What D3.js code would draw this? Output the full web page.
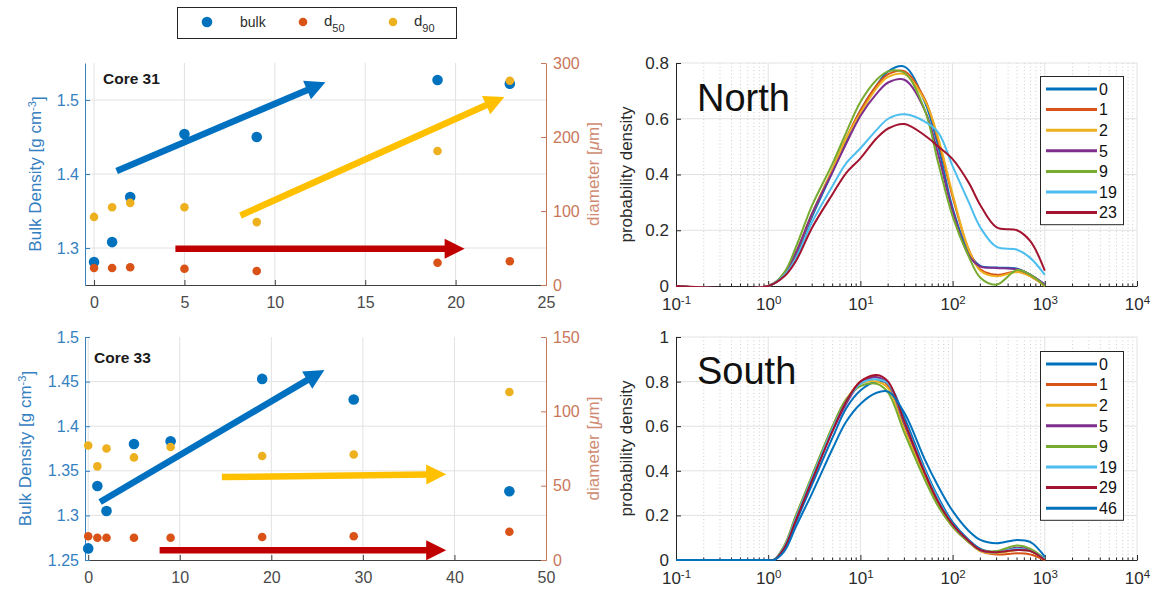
<!DOCTYPE html>
<html><head><meta charset="utf-8">
<script src="https://cdn.jsdelivr.net/npm/d3@7"></script>
<style>body{margin:0;background:#fff} svg{display:block} text{font-family:"Liberation Sans",Arial,Helvetica,sans-serif}</style>
</head><body><svg id="c" width="1161" height="592"></svg>
<script>
// ---------- data ----------
const core31Depth = [0, 1, 2, 5, 9, 19, 23];
const core31Bulk  = [1.281, 1.308, 1.369, 1.454, 1.450, 1.527, 1.522];
const core31D50   = [23, 23, 24, 22, 19, 30, 32];
const core31D90   = [92, 105, 111, 105, 85, 181, 276];

const core33Depth = [0, 1, 2, 5, 9, 19, 29, 46];
const core33Bulk  = [1.263, 1.333, 1.305, 1.380, 1.383, 1.453, 1.430, 1.327];
const core33D50   = [16, 15, 15, 15, 15, 15.5, 16, 19];
const core33D90   = [77, 63, 75, 69, 76, 70, 71, 113];

// trend arrows (data units: depth, bulk density axis)
const arrows31Start = [[1.25, 1.404], [8.1, 1.344], [4.5, 1.299]];
const arrows31End   = [[12.8, 1.524], [22.7, 1.504], [20.5, 1.299]];
const arrows33Start = [[1.3, 1.315], [14.6, 1.343], [7.8, 1.261]];
const arrows33End   = [[25.8, 1.463], [39.1, 1.346], [39.1, 1.261]];

const x31Ticks = [0, 5, 10, 15, 20, 25];
const yL31Ticks = [1.3, 1.4, 1.5];
const yR31Ticks = [0, 100, 200, 300];
const x33Ticks = [0, 10, 20, 30, 40, 50];
const yL33Ticks = [1.25, 1.3, 1.35, 1.4, 1.45, 1.5];
const yR33Ticks = [0, 50, 100, 150];

const northX = [0.1, 1, 1.5, 2, 3, 5, 7, 10, 15, 20, 30, 50, 70, 100, 150, 200, 300, 500, 700, 1000];
const northLabels = ["0", "1", "2", "5", "9", "19", "23"];
const north0  = [0,0,0.04,0.11,0.25,0.41,0.52,0.63,0.72,0.77,0.787,0.66,0.50,0.28,0.12,0.072,0.066,0.062,0.04,0.005];
const north1  = [0,0,0.045,0.12,0.26,0.42,0.53,0.63,0.72,0.76,0.771,0.67,0.52,0.32,0.13,0.06,0.04,0.052,0.035,0];
const north2  = [0,0,0.045,0.12,0.26,0.42,0.53,0.62,0.71,0.75,0.76,0.665,0.53,0.33,0.13,0.055,0.035,0.05,0.035,0];
const north5  = [0,0,0.045,0.12,0.26,0.41,0.51,0.61,0.69,0.73,0.74,0.63,0.47,0.27,0.11,0.07,0.065,0.06,0.04,0.005];
const north9  = [0,0,0.05,0.14,0.29,0.44,0.55,0.66,0.74,0.77,0.765,0.63,0.44,0.25,0.105,0.03,0.005,0.057,0.04,0];
const north19 = [0,0,0.04,0.10,0.23,0.36,0.44,0.494,0.56,0.60,0.616,0.59,0.55,0.43,0.30,0.21,0.14,0.13,0.10,0.04];
const north23 = [0,0,0.035,0.09,0.21,0.33,0.405,0.458,0.53,0.565,0.581,0.54,0.50,0.455,0.37,0.29,0.21,0.20,0.16,0.055];

const southX = [0.1, 1, 1.15, 1.5, 2, 3, 5, 7, 10, 15, 20, 30, 50, 70, 100, 150, 200, 300, 500, 700, 1000];
const southLabels = ["0", "1", "2", "5", "9", "19", "29", "46"];
const south0  = [0,0,0,0.05,0.17,0.34,0.55,0.68,0.76,0.80,0.79,0.64,0.41,0.28,0.17,0.09,0.05,0.035,0.045,0.04,0.005];
const south1  = [0,0,0,0.06,0.19,0.37,0.59,0.71,0.80,0.82,0.78,0.60,0.38,0.25,0.15,0.08,0.04,0.025,0.03,0.025,0];
const south2  = [0,0,0,0.065,0.20,0.38,0.60,0.72,0.79,0.80,0.77,0.59,0.37,0.245,0.15,0.08,0.04,0.03,0.045,0.04,0];
const south5  = [0,0,0,0.055,0.18,0.36,0.58,0.70,0.79,0.82,0.79,0.61,0.39,0.26,0.16,0.085,0.045,0.035,0.055,0.045,0.005];
const south9  = [0,0,0,0.065,0.20,0.38,0.60,0.72,0.78,0.79,0.75,0.57,0.36,0.24,0.15,0.08,0.045,0.04,0.065,0.05,0.005];
const south19 = [0,0,0,0.06,0.19,0.37,0.59,0.71,0.79,0.81,0.79,0.62,0.40,0.27,0.16,0.085,0.045,0.035,0.05,0.04,0.005];
const south29 = [0,0,0,0.055,0.18,0.36,0.58,0.71,0.80,0.83,0.80,0.62,0.39,0.26,0.16,0.085,0.045,0.035,0.045,0.04,0];
const south46 = [0,0,0,0.04,0.15,0.30,0.50,0.62,0.70,0.75,0.755,0.66,0.45,0.33,0.22,0.13,0.09,0.075,0.09,0.08,0.015];

const pdfDecades = [0.1, 1, 10, 100, 1000, 10000];
const northYTicks = [0, 0.2, 0.4, 0.6, 0.8];
const southYTicks = [0, 0.2, 0.4, 0.6, 0.8, 1];

// ---------- styles ----------
const svg = d3.select("#c");
svg.append("rect").attr("width", 1161).attr("height", 592).attr("fill", "#fff");
const MCOL = ["#0072BD", "#D95319", "#EDB120", "#7E2F8E", "#77AC30", "#4DBEEE", "#A2142F", "#0072BD"];
const ARROWCOL = ["#0070C0", "#FFC000", "#C00000"];
const LEFTC = "#3580c0", RIGHTC = "#c8765a", AXC = "#404040", GRID = "#e2e2e2", TXT = "#2b2b2b";

function arrow(g, p1, p2, color) {
  const dx = p2[0] - p1[0], dy = p2[1] - p1[1], L = Math.hypot(dx, dy), ux = dx / L, uy = dy / L;
  const head = 20, hw = 10;
  const bx = p2[0] - ux * head, by = p2[1] - uy * head;
  g.append("line").attr("x1", p1[0]).attr("y1", p1[1]).attr("x2", bx + ux).attr("y2", by + uy)
    .attr("stroke", color).attr("stroke-width", 6.5);
  g.append("path").attr("d", `M${p2[0]},${p2[1]}L${bx - uy * hw},${by + ux * hw}L${bx + uy * hw},${by - ux * hw}Z`).attr("fill", color);
}

function styleAxis(ax, color, fs) {
  ax.select(".domain").attr("stroke", color).attr("stroke-width", 1);
  ax.selectAll(".tick line").attr("stroke", color);
  ax.selectAll(".tick text").attr("fill", color).attr("font-size", fs).attr("font-family", '"Liberation Sans",Arial,sans-serif');
}

function scatterPanel(c) {
  const xs = d3.scaleLinear().domain(c.xDom).range([85, 546]);
  const yl = d3.scaleLinear().domain(c.yLDom).range([c.y1, c.y0]);
  const yr = d3.scaleLinear().domain(c.yRDom).range([c.y1, c.y0]);
  const g = svg.append("g");
  g.selectAll(null).data(c.xTicks.filter(t => xs(t) > 87 && xs(t) < 544)).join("line")
    .attr("x1", d => xs(d)).attr("x2", d => xs(d)).attr("y1", c.y0).attr("y2", c.y1).attr("stroke", GRID);
  g.selectAll(null).data(c.yLTicks.filter(t => yl(t) > c.y0 + 1 && yl(t) < c.y1 - 1)).join("line")
    .attr("x1", 85).attr("x2", 546).attr("y1", d => yl(d)).attr("y2", d => yl(d)).attr("stroke", GRID);

  const ax = g.append("g").attr("transform", `translate(0,${c.y1})`)
    .call(d3.axisBottom(xs).tickValues(c.xTicks).tickSizeInner(-5).tickSizeOuter(0).tickPadding(12));
  styleAxis(ax, AXC, 16);
  ax.selectAll(".tick text").attr("fill", "#4a4a4a");
  const al = g.append("g").attr("transform", "translate(85,0)")
    .call(d3.axisLeft(yl).tickValues(c.yLTicks).tickSizeInner(-5).tickSizeOuter(0).tickPadding(6).tickFormat(d3.format("~g")));
  styleAxis(al, LEFTC, 16);
  const ar = g.append("g").attr("transform", "translate(546,0)")
    .call(d3.axisRight(yr).tickValues(c.yRTicks).tickSizeInner(-5).tickSizeOuter(0).tickPadding(7));
  styleAxis(ar, RIGHTC, 16);

  const my = (c.y0 + c.y1) / 2;
  const lt = g.append("text").attr("transform", `translate(${c.yLabelX},${my}) rotate(-90)`)
    .attr("text-anchor", "middle").attr("fill", LEFTC).attr("font-size", 17);
  lt.append("tspan").text("Bulk Density [g cm");
  lt.append("tspan").attr("dy", "-0.45em").attr("font-size", 11).text("-3");
  lt.append("tspan").attr("dy", "0.45em").text("]");
  const rt = g.append("text").attr("transform", `translate(599,${my}) rotate(-90)`)
    .attr("text-anchor", "middle").attr("fill", RIGHTC).attr("font-size", 17).attr("opacity", 0.85);
  rt.append("tspan").text("diameter [");
  rt.append("tspan").attr("font-style", "italic").text("μ");
  rt.append("tspan").text("m]");

  g.append("text").attr("x", c.titleX).attr("y", c.titleY).attr("font-size", 15.5).attr("font-weight", "bold")
    .attr("fill", "#1a1a1a").text(c.title);

  g.selectAll(null).data(c.depth).join("circle").attr("cx", d => xs(d)).attr("cy", (d, i) => yl(c.bulk[i]))
    .attr("r", 5.3).attr("fill", MCOL[0]);
  g.selectAll(null).data(c.depth).join("circle").attr("cx", d => xs(d)).attr("cy", (d, i) => yr(c.d50[i]))
    .attr("r", 4.3).attr("fill", MCOL[1]);
  g.selectAll(null).data(c.depth).join("circle").attr("cx", d => xs(d)).attr("cy", (d, i) => yr(c.d90[i]))
    .attr("r", 4.3).attr("fill", MCOL[2]);

  c.aStart.forEach((s, i) => {
    const e = c.aEnd[i];
    arrow(g, [xs(s[0]), yl(s[1])], [xs(e[0]), yl(e[1])], ARROWCOL[i]);
  });
}

scatterPanel({xDom: [-0.5, 25], yLDom: [1.25, 1.55], yRDom: [0, 300], y0: 63, y1: 285,
  xTicks: x31Ticks, yLTicks: yL31Ticks, yRTicks: yR31Ticks, depth: core31Depth, bulk: core31Bulk,
  d50: core31D50, d90: core31D90, aStart: arrows31Start, aEnd: arrows31End, title: "Core 31",
  titleX: 103, titleY: 84, yLabelX: 41});
scatterPanel({xDom: [-0.35, 50], yLDom: [1.25, 1.5], yRDom: [0, 150], y0: 337, y1: 560,
  xTicks: x33Ticks, yLTicks: yL33Ticks, yRTicks: yR33Ticks, depth: core33Depth, bulk: core33Bulk,
  d50: core33D50, d90: core33D90, aStart: arrows33Start, aEnd: arrows33End, title: "Core 33",
  titleX: 94, titleY: 363, yLabelX: 31});

// top legend
const lg = svg.append("g");
lg.append("rect").attr("x", 177.5).attr("y", 7.5).attr("width", 279).attr("height", 31).attr("fill", "#fff").attr("stroke", "#262626");
const legKeys = ["bulk", "50", "90"];
const legMx = [207, 303, 393];
legKeys.forEach((k, i) => {
  lg.append("circle").attr("cx", legMx[i]).attr("cy", 22).attr("r", i === 0 ? 5.3 : 4.3).attr("fill", MCOL[i]);
  if (i === 0) {
    lg.append("text").attr("x", 240).attr("y", 27).attr("font-size", 14).attr("fill", TXT).text(k);
  } else {
    const t = lg.append("text").attr("x", legMx[i] + 21).attr("y", 26).attr("font-size", 15).attr("fill", TXT);
    t.append("tspan").text("d");
    t.append("tspan").attr("dy", 6).attr("font-size", 11).text(k);
  }
});

// ---------- PDF panels ----------
let clipN = 0;
function pdfPanel(c) {
  const x0 = 676, x1 = 1137;
  const xs = d3.scaleLog().domain([0.1, 1e4]).range([x0, x1]);
  const ys = d3.scaleLinear().domain(c.yDom).range([c.y1, c.y0]);
  const g = svg.append("g");
  const minors = [];
  for (let e = -1; e < 4; e++) for (let k = 2; k <= 9; k++) minors.push(k * Math.pow(10, e));
  g.selectAll(null).data(minors).join("line").attr("x1", d => xs(d)).attr("x2", d => xs(d))
    .attr("y1", c.y0).attr("y2", c.y1).attr("stroke", "#cfcfcf").attr("stroke-dasharray", "1,2.5");
  g.selectAll(null).data(pdfDecades.slice(1)).join("line").attr("x1", d => xs(d)).attr("x2", d => xs(d))
    .attr("y1", c.y0).attr("y2", c.y1).attr("stroke", GRID);
  g.selectAll(null).data(c.yTicks.slice(1)).join("line").attr("x1", x0).attr("x2", x1)
    .attr("y1", d => ys(d)).attr("y2", d => ys(d)).attr("stroke", GRID);

  const ax = g.append("g").attr("transform", `translate(0,${c.y1})`)
    .call(d3.axisBottom(xs).tickValues(pdfDecades).tickSizeInner(-5).tickSizeOuter(0).tickPadding(12).tickFormat(() => ""));
  styleAxis(ax, "#262626", 17);
  ax.selectAll(".tick text").each(function(d) {
    const t = d3.select(this).attr("fill", TXT);
    t.append("tspan").text("10");
    t.append("tspan").attr("dy", "-0.5em").attr("font-size", 11.5).text(Math.round(Math.log10(d)));
  });
  g.selectAll(null).data(minors).join("line").attr("x1", d => xs(d)).attr("x2", d => xs(d))
    .attr("y1", c.y1).attr("y2", c.y1 - 2.5).attr("stroke", "#262626");
  const al = g.append("g").attr("transform", `translate(${x0},0)`)
    .call(d3.axisLeft(ys).tickValues(c.yTicks).tickSizeInner(-5).tickSizeOuter(0).tickPadding(7).tickFormat(d3.format("~g")));
  styleAxis(al, "#262626", 17);
  al.selectAll(".tick text").attr("fill", TXT);

  g.append("text").attr("transform", `translate(632,${(c.y0 + c.y1) / 2}) rotate(-90)`)
    .attr("text-anchor", "middle").attr("font-size", 17).attr("fill", TXT).text("probability density");
  g.append("text").attr("x", 697).attr("y", c.titleY).attr("font-size", 38).attr("fill", "#111").text(c.title);

  const cid = "clip" + (clipN++);
  svg.append("clipPath").attr("id", cid).append("rect").attr("x", x0).attr("y", c.y0 - 5)
    .attr("width", x1 - x0).attr("height", c.y1 - c.y0 + 6);
  const lines = g.append("g").attr("clip-path", `url(#${cid})`);
  const line = d3.line().x((d, i) => xs(c.xVals[i])).y(d => ys(d)).curve(d3.curveCatmullRom.alpha(0.5));
  c.series.forEach((s, i) => {
    lines.append("path").attr("d", line(s)).attr("fill", "none").attr("stroke", MCOL[i]).attr("stroke-width", 2);
  });

  const n = c.labels.length, step = 20.6;
  g.append("rect").attr("x", 1040.5).attr("y", c.legTop + 0.5).attr("width", 83).attr("height", n * step + 4)
    .attr("fill", "#fff").attr("stroke", "#262626");
  c.labels.forEach((l, i) => {
    const yy = c.legTop + 13 + i * step;
    g.append("line").attr("x1", 1046).attr("x2", 1097).attr("y1", yy).attr("y2", yy).attr("stroke", MCOL[i]).attr("stroke-width", 3);
    g.append("text").attr("x", 1099).attr("y", yy).attr("dy", "0.36em").attr("font-size", 16).attr("fill", "#111").text(l);
  });
}

pdfPanel({y0: 63, y1: 286, yDom: [0, 0.8], yTicks: northYTicks, xVals: northX,
  series: [north0, north1, north2, north5, north9, north19, north23], labels: northLabels,
  title: "North", titleY: 111, legTop: 76});
pdfPanel({y0: 337, y1: 560, yDom: [0, 1], yTicks: southYTicks, xVals: southX,
  series: [south0, south1, south2, south5, south9, south19, south29, south46], labels: southLabels,
  title: "South", titleY: 384, legTop: 351});
</script></body></html>
